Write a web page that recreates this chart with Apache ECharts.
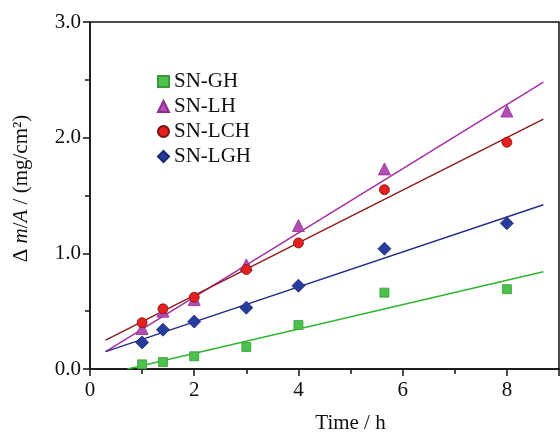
<!DOCTYPE html>
<html>
<head>
<meta charset="utf-8">
<script src="https://cdn.jsdelivr.net/npm/echarts@6/dist/echarts.min.js"></script>
<style>
  html, body { margin: 0; padding: 0; background: #fff; }
  #chart { width: 560px; height: 432px; }
</style>
</head>
<body>
<div id="chart"></div>
<script>
// measured points, time (h) vs mass gain
const timeH = [1, 1.4, 2, 3, 4, 5.65, 8];
const snGH = [0.04, 0.06, 0.11, 0.19, 0.38, 0.66, 0.69];
const snLH = [0.35, 0.50, 0.60, 0.90, 1.24, 1.73, 2.23];
const snLCH = [0.40, 0.52, 0.62, 0.86, 1.09, 1.55, 1.96];
const snLGH = [0.23, 0.34, 0.41, 0.53, 0.72, 1.04, 1.26];

// fit line end points
const fitGH = [[0.72, 0], [8.7, 0.84]];
const fitLH = [[0.3, 0.15], [8.7, 2.48]];
const fitLCH = [[0.3, 0.25], [8.7, 2.16]];
const fitLGH = [[0.3, 0.15], [8.7, 1.42]];

const font = 'Liberation Serif';
const pts = ys => timeH.map((t, i) => [t, ys[i]]);

const chart = echarts.init(document.getElementById('chart'));

function scatter(name, ys, symbol, size, color, border) {
  return {
    name: name,
    type: 'scatter',
    data: pts(ys),
    symbol: symbol,
    symbolSize: size,
    z: 3,
    itemStyle: { color: color, borderColor: border, borderWidth: 0.8, opacity: 1 }
  };
}

function fit(data, color) {
  return {
    type: 'line',
    data: data,
    showSymbol: false,
    symbol: 'none',
    silent: true,
    z: 2,
    lineStyle: { color: color, width: 1.5 }
  };
}

chart.setOption({
  animation: false,
  grid: {
    left: 90, top: 22, right: 1, bottom: 63,
    outerBoundsMode: 'none',
    containLabel: false,
    show: true, borderColor: '#111', borderWidth: 1.5
  },
  legend: {
    left: 152, top: 66,
    orient: 'vertical',
    itemWidth: 11, itemHeight: 11,
    itemGap: 4,
    textStyle: { fontFamily: font, fontSize: 21, color: '#111' },
    data: ['SN-GH', 'SN-LH', 'SN-LCH', 'SN-LGH']
  },
  xAxis: {
    type: 'value',
    min: 0, max: 9, interval: 2,
    name: 'Time / h',
    nameLocation: 'middle',
    nameGap: 44,
    nameTextStyle: { fontFamily: font, fontSize: 21, color: '#111', padding: [0, 0, 0, 52] },
    axisLine: { onZero: false, lineStyle: { color: '#111', width: 1.5 } },
    axisTick: { length: 7, lineStyle: { color: '#111', width: 1.5 } },
    minorTick: { show: true, splitNumber: 2, length: 5, lineStyle: { color: '#111', width: 1.5 } },
    axisLabel: { fontFamily: font, fontSize: 21, color: '#111', margin: 11, showMaxLabel: false },
    splitLine: { show: false }
  },
  yAxis: {
    type: 'value',
    min: 0, max: 3, interval: 1,
    name: '{t|Δ }{i|m}{t|/}{i|A}{t| / (mg/cm²)}',
    nameLocation: 'middle',
    nameGap: 58,
    nameTextStyle: {
      padding: [0, 0, 0, 14],
      rich: {
        t: { fontFamily: font, fontSize: 21, color: '#111' },
        i: { fontFamily: font, fontSize: 21, color: '#111', fontStyle: 'italic' }
      }
    },
    axisLine: { lineStyle: { color: '#111', width: 1.5 } },
    axisTick: { length: 7, lineStyle: { color: '#111', width: 1.5 } },
    minorTick: { show: true, splitNumber: 2, length: 5, lineStyle: { color: '#111', width: 1.5 } },
    axisLabel: {
      fontFamily: font, fontSize: 21, color: '#111', margin: 9,
      formatter: v => v.toFixed(1)
    },
    splitLine: { show: false }
  },
  series: [
    fit(fitGH, '#2fb52f'),
    fit(fitLH, '#a42fa4'),
    fit(fitLCH, '#8e1d1d'),
    fit(fitLGH, '#2b2e86'),
    scatter('SN-GH', snGH, 'rect', 9, '#4cc14c', '#3a9a3a'),
    scatter('SN-LH', snLH, 'triangle', 12, '#b54cb8', '#8a2f8e'),
    scatter('SN-LCH', snLCH, 'circle', 10, '#e41f1f', '#7a1010'),
    scatter('SN-LGH', snLGH, 'diamond', 13, '#283c9e', '#1a2670')
  ]
});
</script>
</body>
</html>
